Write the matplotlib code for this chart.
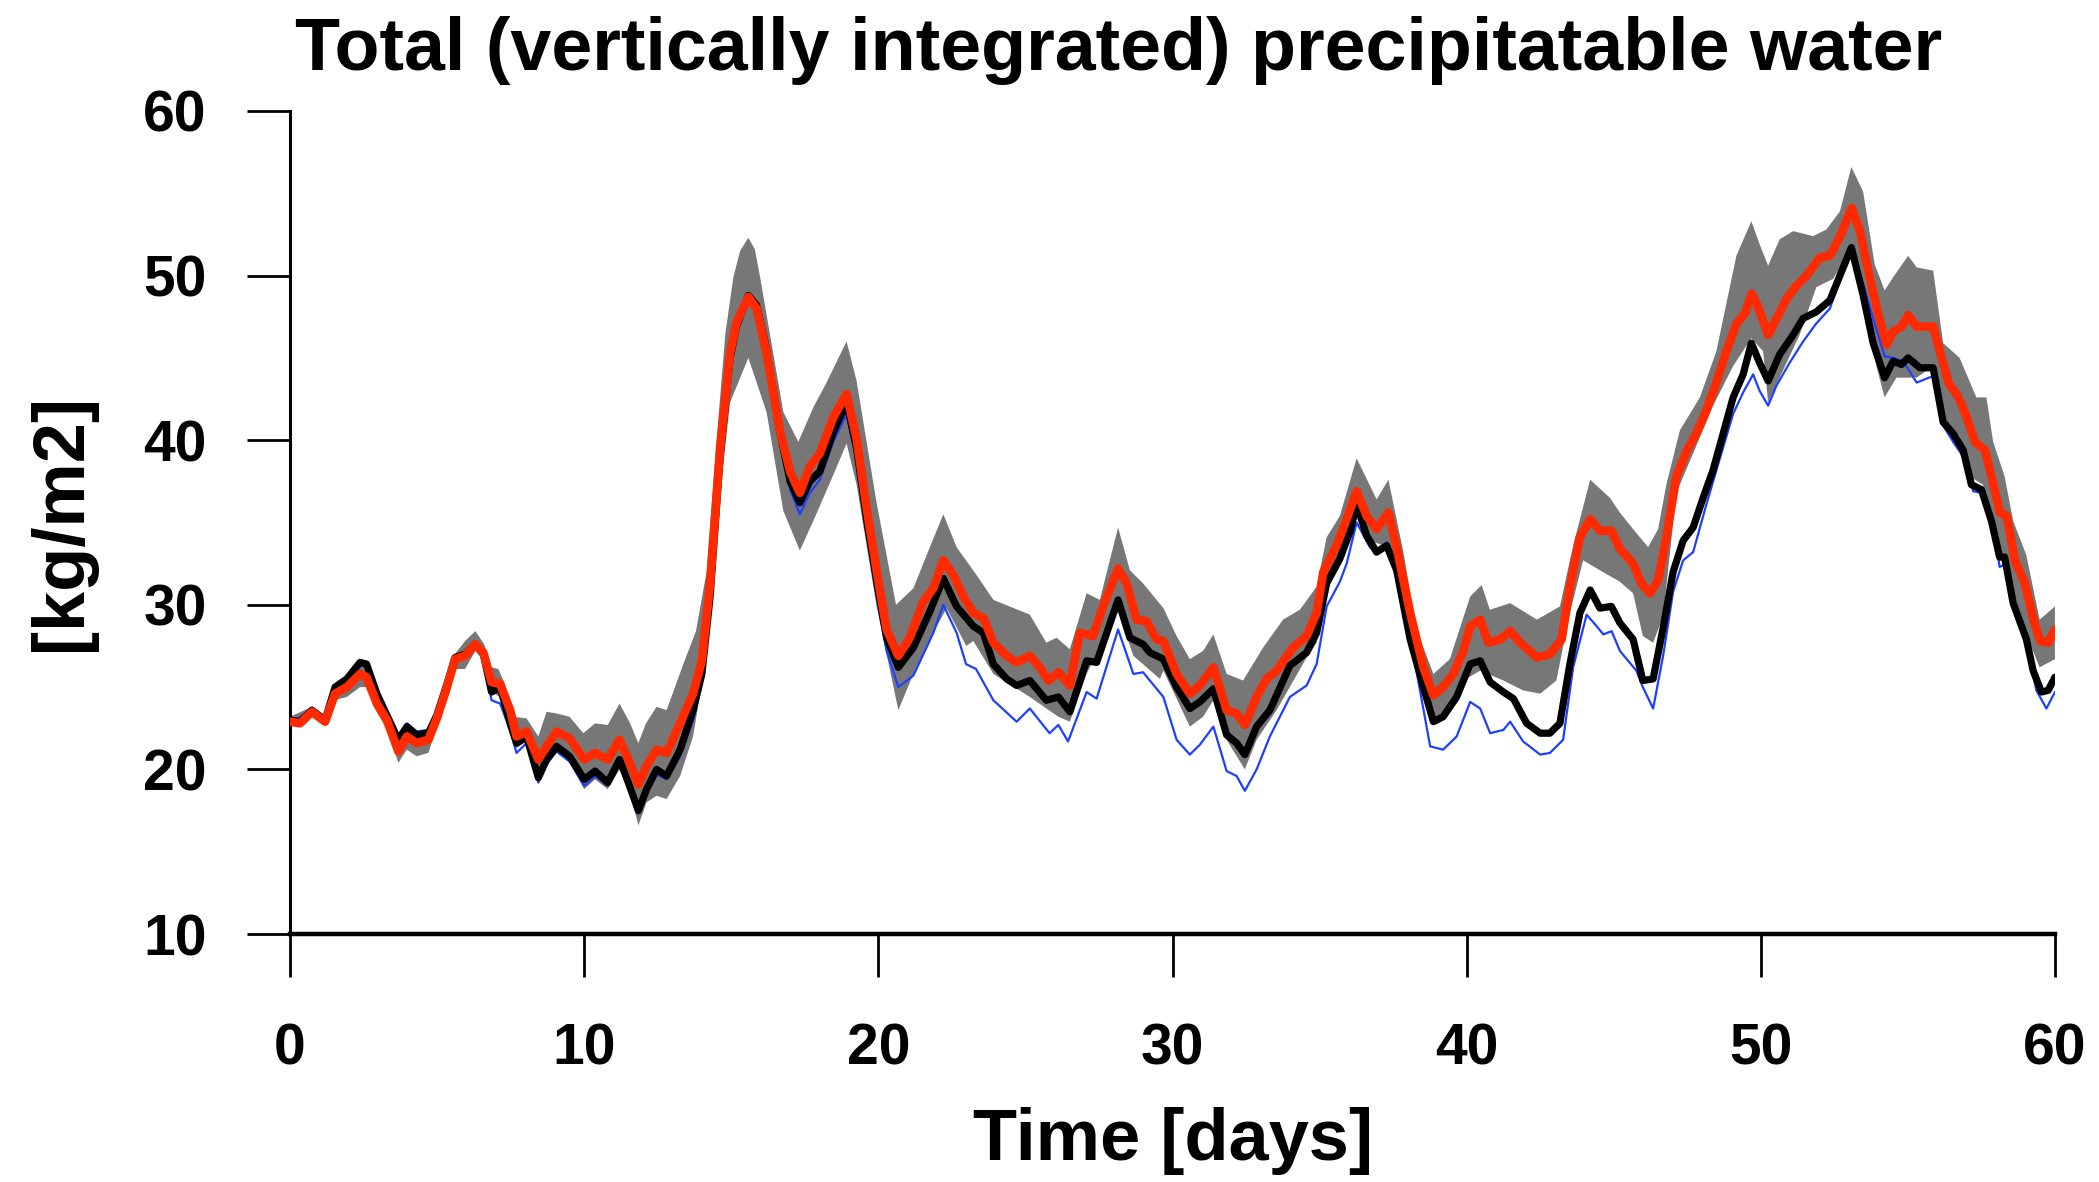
import numpy as np
import matplotlib
matplotlib.use("Agg")
import matplotlib.pyplot as plt

plt.rcParams['font.family'] = ['Liberation Sans', 'DejaVu Sans']
plt.rcParams['font.weight'] = 'bold'

# (day, value)
red = [(0, 22.9), (0.34, 22.8), (0.74, 23.5), (1.19, 22.9), (1.53, 24.6), (1.93, 25.0), (2.38, 25.8),
       (2.6, 25.6), (2.95, 24.0), (3.29, 23.0), (3.68, 21.1), (3.97, 22.0), (4.3, 21.6), (4.7, 21.8),
       (4.99, 23.1), (5.3, 24.8), (5.61, 26.7), (5.95, 26.9), (6.29, 27.6), (6.57, 27.1), (6.85, 25.3),
       (7.14, 25.2), (7.48, 23.6), (7.7, 22.0), (8.04, 22.3), (8.44, 20.6), (8.72, 21.4), (9.06, 22.3),
       (9.5, 21.9), (10.0, 20.6), (10.37, 21.0), (10.8, 20.6), (11.2, 21.8), (11.5, 20.6), (11.84, 19.1),
       (12.12, 20.2), (12.46, 21.2), (12.8, 21.0), (13.26, 22.8), (13.7, 24.6), (14.0, 26.6), (14.28, 31.3),
       (14.62, 39.5), (14.96, 45.3), (15.19, 47.2), (15.58, 48.7), (15.86, 48.0), (16.2, 45.3), (16.65, 40.6),
       (17.0, 38.1), (17.33, 36.8), (17.67, 38.4), (18.01, 39.2), (18.47, 41.4), (18.92, 42.8), (19.26, 40.1),
       (19.6, 35.9), (19.94, 32.1), (20.28, 28.5), (20.68, 26.9), (21.07, 28.0), (21.53, 30.2), (21.87, 31.0),
       (22.21, 32.7), (22.55, 31.8), (22.89, 30.5), (23.23, 29.5), (23.57, 29.2), (23.91, 27.7), (24.36, 26.9),
       (24.7, 26.5), (25.15, 26.9), (25.49, 26.2), (25.78, 25.4), (26.12, 25.9), (26.51, 25.1), (26.85, 28.3),
       (27.3, 28.1), (27.64, 29.9), (28.15, 32.2), (28.44, 31.3), (28.78, 29.1), (29.12, 29.0), (29.46, 27.9),
       (29.69, 27.8), (30.14, 25.8), (30.59, 24.6), (30.93, 25.1), (31.39, 26.2), (31.84, 23.6), (32.18, 23.4),
       (32.46, 22.7), (32.86, 24.4), (33.2, 25.5), (33.54, 26.0), (34.1, 27.4), (34.56, 28.1), (34.9, 29.5),
       (35.13, 32.0), (35.58, 33.6), (35.92, 35.2), (36.26, 36.9), (36.6, 35.4), (36.94, 34.6), (37.34, 35.6),
       (37.62, 33.5), (38.08, 29.5), (38.53, 26.2), (38.87, 24.5), (39.2, 25.0), (39.55, 25.8), (39.89, 27.2),
       (40.12, 28.7), (40.46, 29.1), (40.74, 27.7), (41.14, 27.9), (41.48, 28.4), (41.82, 27.7), (42.39, 26.8),
       (42.83, 27.0), (43.23, 27.9), (43.51, 31.1), (43.85, 34.1), (44.2, 35.2), (44.53, 34.5), (44.92, 34.5),
       (45.21, 33.4), (45.66, 32.5), (45.94, 31.3), (46.23, 30.7), (46.51, 31.5), (46.79, 34.1), (47.13, 37.8),
       (47.47, 39.3), (47.81, 40.4), (48.15, 41.8), (48.49, 43.5), (48.83, 45.4), (49.18, 47.1), (49.46, 47.7),
       (49.69, 48.9), (49.91, 48.1), (50.25, 46.4), (50.54, 47.4), (50.88, 48.6), (51.22, 49.4), (51.56, 50.0),
       (52.01, 51.1), (52.35, 51.2), (52.7, 52.4), (53.09, 54.1), (53.37, 52.7), (53.71, 49.8), (54.0, 47.6),
       (54.28, 45.8), (54.5, 46.6), (54.79, 46.9), (55.01, 47.6), (55.3, 46.9), (55.86, 46.9), (56.09, 45.4),
       (56.38, 43.5), (56.72, 42.6), (57.0, 41.4), (57.28, 39.9), (57.62, 39.4), (57.91, 37.3), (58.13, 35.6),
       (58.36, 35.4), (58.64, 32.7), (58.98, 31.3), (59.27, 29.1), (59.5, 27.8), (59.78, 27.7), (60.0, 28.5)]

black = [(0, 23.0), (0.34, 22.9), (0.74, 23.6), (1.19, 23.0), (1.53, 25.0), (1.93, 25.5), (2.38, 26.5),
         (2.6, 26.4), (2.95, 24.6), (3.29, 23.3), (3.68, 21.8), (3.97, 22.6), (4.3, 22.1), (4.7, 22.2),
         (4.99, 23.3), (5.3, 25.0), (5.61, 26.8), (5.95, 27.0), (6.29, 27.6), (6.57, 27.0), (6.85, 24.7),
         (7.14, 25.0), (7.48, 22.8), (7.7, 21.6), (8.04, 22.0), (8.44, 19.5), (8.72, 20.6), (9.06, 21.4),
         (9.5, 20.8), (10.0, 19.4), (10.37, 19.9), (10.8, 19.2), (11.2, 20.6), (11.5, 19.2), (11.84, 17.5),
         (12.12, 18.8), (12.46, 20.0), (12.8, 19.6), (13.26, 21.2), (13.7, 23.6), (14.0, 25.8), (14.28, 30.5),
         (14.62, 39.0), (14.96, 45.0), (15.19, 47.0), (15.58, 48.8), (15.86, 48.2), (16.2, 45.5), (16.65, 40.5),
         (17.0, 37.5), (17.33, 36.2), (17.67, 37.5), (18.01, 38.1), (18.47, 40.5), (18.92, 42.3), (19.26, 39.5),
         (19.6, 35.2), (19.94, 31.5), (20.28, 28.0), (20.68, 26.2), (21.19, 27.4), (21.75, 29.6), (22.21, 31.6),
         (22.66, 29.9), (23.23, 28.7), (23.57, 28.3), (23.91, 26.4), (24.36, 25.5), (24.7, 25.1), (25.15, 25.4),
         (25.71, 24.2), (26.12, 24.4), (26.51, 23.5), (27.08, 26.6), (27.42, 26.5), (28.15, 30.3), (28.55, 28.0),
         (29.0, 27.6), (29.23, 27.1), (29.69, 26.7), (30.14, 25.0), (30.59, 23.7), (30.93, 24.1), (31.39, 24.9),
         (31.84, 22.1), (32.18, 21.6), (32.46, 20.9), (32.86, 22.6), (33.31, 23.6), (33.99, 26.3), (34.56, 27.1),
         (34.9, 28.3), (35.24, 31.3), (35.69, 32.8), (36.03, 34.4), (36.26, 36.1), (36.6, 34.2), (36.94, 33.2),
         (37.28, 33.6), (37.62, 32.1), (38.08, 27.9), (38.53, 25.0), (38.87, 22.9), (39.2, 23.2), (39.66, 24.4),
         (40.12, 26.4), (40.46, 26.6), (40.8, 25.3), (41.25, 24.7), (41.59, 24.3), (42.04, 22.8), (42.5, 22.2),
         (42.83, 22.2), (43.17, 22.8), (43.51, 26.4), (43.85, 29.5), (44.2, 30.9), (44.53, 29.8), (44.92, 29.9),
         (45.21, 28.9), (45.66, 27.9), (45.99, 25.4), (46.34, 25.5), (46.68, 28.6), (47.02, 32.0), (47.36, 33.9),
         (47.7, 34.7), (48.04, 36.5), (48.38, 38.2), (48.72, 40.4), (49.06, 42.6), (49.4, 44.0), (49.68, 45.9),
         (49.96, 44.7), (50.25, 43.6), (50.64, 45.2), (51.1, 46.4), (51.44, 47.4), (51.89, 47.8), (52.35, 48.5),
         (52.69, 50.0), (53.08, 51.7), (53.48, 48.8), (53.82, 45.9), (54.21, 43.8), (54.5, 44.8), (54.78, 44.6),
         (55.01, 45.0), (55.41, 44.4), (55.86, 44.4), (56.2, 41.1), (56.54, 40.4), (56.88, 39.4), (57.16, 37.3),
         (57.5, 37.0), (57.84, 35.1), (58.12, 32.9), (58.29, 32.9), (58.58, 30.1), (59.03, 27.9), (59.26, 26.0),
         (59.54, 24.7), (59.77, 24.8), (60.0, 25.6)]

blue = [(0, 22.9), (0.74, 23.5), (1.19, 22.9), (1.53, 24.8), (1.93, 25.4), (2.38, 26.4), (2.6, 26.3),
        (2.95, 24.8), (3.29, 23.5), (3.68, 22.0), (3.97, 22.8), (4.3, 22.3), (4.7, 22.4), (4.99, 23.2),
        (5.3, 24.8), (5.61, 26.6), (5.95, 26.8), (6.29, 27.4), (6.57, 26.9), (6.85, 24.2), (7.14, 24.0),
        (7.48, 22.4), (7.7, 21.0), (8.04, 21.6), (8.44, 19.2), (8.72, 20.3), (9.06, 21.1), (9.5, 20.5),
        (10.0, 19.0), (10.37, 19.6), (10.8, 19.0), (11.2, 20.4), (11.5, 19.0), (11.84, 17.3), (12.12, 18.5),
        (12.46, 19.7), (12.8, 19.4), (13.26, 20.8), (13.7, 23.0), (14.0, 25.2), (14.28, 29.5), (14.62, 38.0),
        (14.96, 44.5), (15.19, 46.5), (15.58, 48.4), (15.86, 47.8), (16.2, 45.0), (16.65, 40.0), (17.0, 37.0),
        (17.33, 35.5), (17.67, 36.8), (18.01, 37.6), (18.47, 39.9), (18.92, 41.6), (19.26, 38.8), (19.6, 34.5),
        (19.94, 30.5), (20.28, 27.2), (20.68, 25.0), (21.19, 25.7), (21.87, 28.3), (22.21, 30.0), (22.66, 28.3),
        (22.98, 26.4), (23.32, 26.1), (23.91, 24.2), (24.7, 22.9), (25.15, 23.7), (25.82, 22.2), (26.12, 22.7),
        (26.45, 21.7), (27.08, 24.7), (27.42, 24.3), (28.15, 28.5), (28.67, 25.8), (29.0, 25.9), (29.23, 25.4),
        (29.69, 24.4), (30.14, 21.8), (30.59, 20.9), (30.93, 21.5), (31.39, 22.6), (31.84, 19.9), (32.18, 19.6),
        (32.46, 18.7), (32.86, 20.0), (33.31, 22.0), (33.99, 24.4), (34.56, 25.1), (34.9, 26.4), (35.24, 29.9),
        (35.69, 31.4), (35.92, 32.5), (36.26, 35.0), (36.71, 33.5), (36.94, 33.2), (37.28, 33.8), (37.62, 31.7),
        (38.19, 27.0), (38.76, 21.4), (39.2, 21.2), (39.66, 22.0), (40.12, 24.1), (40.46, 23.7), (40.8, 22.2),
        (41.25, 22.4), (41.48, 22.9), (41.92, 21.7), (42.5, 20.9), (42.83, 21.0), (43.28, 21.8), (43.62, 26.2),
        (44.08, 29.4), (44.42, 28.7), (44.65, 28.2), (44.93, 28.4), (45.21, 27.2), (45.77, 26.0), (45.99, 25.0),
        (46.34, 23.7), (46.68, 26.9), (47.02, 30.8), (47.36, 32.7), (47.7, 33.2), (48.15, 36.1), (48.61, 38.9),
        (49.06, 41.6), (49.4, 42.9), (49.74, 44.0), (49.96, 43.0), (50.25, 42.1), (50.53, 43.3), (50.98, 44.7),
        (51.44, 46.0), (51.89, 47.1), (52.35, 48.0), (52.69, 49.8), (53.08, 51.8), (53.48, 49.5), (53.82, 47.4),
        (54.21, 45.1), (54.5, 45.0), (54.84, 44.8), (55.3, 43.5), (55.86, 43.9), (56.2, 40.9), (56.54, 39.9),
        (56.88, 39.0), (57.22, 36.9), (57.5, 36.8), (57.9, 34.9), (58.12, 32.3), (58.35, 32.5), (58.69, 29.3),
        (59.03, 27.7), (59.37, 24.8), (59.71, 23.7), (60.0, 24.7)]

band_top = [(0, 23.2), (0.74, 23.8), (1.2, 23.2), (1.5, 25.0), (1.93, 25.6), (2.38, 26.7), (2.6, 26.6),
            (2.95, 25.0), (3.3, 23.6), (3.68, 22.0), (3.97, 22.8), (4.3, 22.3), (4.7, 22.4), (5.0, 23.4),
            (5.3, 25.2), (5.6, 27.0), (5.95, 27.8), (6.3, 28.4), (6.6, 27.6), (6.85, 26.2), (7.08, 26.1),
            (7.3, 25.2), (7.6, 23.2), (8.04, 23.1), (8.44, 22.0), (8.72, 23.5), (9.06, 23.4), (9.5, 23.2),
            (9.97, 22.2), (10.37, 22.8), (10.8, 22.7), (11.2, 24.0), (11.56, 22.8), (11.84, 21.6), (12.1, 22.8),
            (12.46, 23.8), (12.8, 23.6), (13.37, 26.4), (13.8, 28.4), (14.16, 32.0), (14.5, 40.0), (14.8, 46.5),
            (15.07, 49.9), (15.3, 51.5), (15.58, 52.3), (15.8, 51.6), (15.98, 49.9), (16.77, 41.7), (17.28, 39.9),
            (17.79, 42.0), (18.21, 43.4), (18.92, 46.0), (19.26, 43.6), (19.94, 36.2), (20.6, 30.0), (21.19, 31.0),
            (21.75, 33.5), (22.21, 35.5), (22.66, 33.5), (23.34, 31.8), (23.91, 30.3), (25.15, 29.4), (25.71, 27.7),
            (26.06, 28.0), (26.51, 27.3), (27.08, 30.7), (27.53, 30.3), (28.15, 34.7), (28.55, 32.1), (29.0, 31.3),
            (29.69, 29.8), (30.14, 28.1), (30.59, 26.7), (31.04, 27.2), (31.39, 28.2), (31.84, 25.8), (32.4, 25.4),
            (33.08, 27.4), (33.76, 29.1), (34.33, 29.7), (34.9, 31.1), (35.24, 34.1), (35.69, 35.4), (36.26, 38.9),
            (36.94, 36.4), (37.34, 37.6), (37.85, 33.2), (38.3, 28.5), (38.87, 25.8), (39.43, 26.7), (40.12, 30.5),
            (40.51, 31.2), (40.79, 29.7), (41.48, 30.1), (42.39, 29.1), (43.17, 29.9), (43.62, 33.6), (44.2, 37.6),
            (44.87, 36.5), (45.21, 35.6), (45.66, 34.6), (46.17, 33.5), (46.51, 34.6), (46.79, 37.3), (47.25, 40.6),
            (47.93, 42.6), (48.49, 45.4), (49.17, 51.2), (49.68, 53.3), (49.96, 51.9), (50.25, 50.6), (50.64, 52.2),
            (51.1, 52.7), (51.78, 52.4), (52.23, 52.8), (52.69, 53.9), (53.08, 56.6), (53.48, 55.1), (53.87, 50.7),
            (54.21, 49.1), (54.5, 49.9), (55.01, 51.2), (55.3, 50.5), (55.86, 50.3), (56.2, 45.9), (56.76, 45.0),
            (57.33, 42.6), (57.67, 42.6), (57.9, 39.9), (58.29, 37.8), (58.58, 35.1), (59.03, 33.0), (59.48, 29.1),
            (60.0, 29.9)]

band_bottom = [(0, 22.7), (0.74, 23.3), (1.2, 22.7), (1.5, 24.2), (1.93, 24.4), (2.38, 25.0), (2.6, 25.0),
               (2.95, 23.5), (3.3, 22.4), (3.68, 20.4), (3.97, 21.2), (4.3, 20.8), (4.7, 21.0), (5.0, 22.6),
               (5.3, 24.4), (5.6, 26.1), (5.95, 26.1), (6.3, 27.2), (6.6, 26.6), (6.85, 24.7), (7.14, 24.4),
               (7.48, 22.6), (7.7, 21.3), (8.04, 21.7), (8.44, 19.4), (8.72, 20.8), (9.06, 21.0), (9.5, 20.4),
               (10.0, 18.8), (10.37, 19.4), (10.8, 18.8), (11.2, 20.0), (11.5, 19.0), (11.84, 16.6), (12.12, 18.0),
               (12.46, 18.4), (12.8, 18.2), (13.26, 19.6), (13.7, 22.0), (14.0, 25.2), (14.3, 30.0), (14.6, 36.5),
               (14.96, 42.3), (15.58, 45.0), (16.2, 41.7), (16.77, 35.7), (17.33, 33.3), (17.79, 35.1), (18.47, 37.9),
               (18.92, 39.8), (19.26, 37.3), (19.94, 29.9), (20.68, 23.6), (21.19, 25.8), (21.87, 28.3), (22.32, 29.8),
               (22.99, 27.5), (23.23, 27.8), (23.91, 25.8), (25.15, 24.4), (26.12, 23.2), (26.51, 22.9), (27.08, 25.8),
               (28.15, 29.6), (28.67, 26.9), (29.57, 25.5), (29.69, 26.0), (30.59, 22.6), (31.04, 23.2), (31.39, 24.2),
               (31.84, 21.8), (32.46, 20.0), (32.86, 21.8), (33.54, 23.6), (34.56, 26.8), (34.9, 27.7), (35.35, 31.5),
               (36.26, 35.6), (36.71, 33.9), (37.17, 33.6), (37.85, 31.1), (38.53, 25.4), (38.87, 22.8), (39.2, 23.2),
               (39.89, 25.4), (40.46, 26.0), (41.25, 25.4), (41.92, 24.8), (42.5, 24.6), (43.05, 25.4), (43.51, 29.5),
               (43.96, 32.7), (44.53, 32.1), (45.21, 31.4), (45.66, 30.7), (45.99, 28.1), (46.34, 27.7), (46.68, 29.3),
               (47.13, 36.8), (47.7, 39.2), (48.38, 42.1), (49.06, 44.5), (49.68, 46.2), (50.08, 45.4), (50.25, 42.3),
               (50.64, 43.8), (51.32, 46.4), (51.89, 49.3), (52.46, 49.8), (53.08, 51.7), (53.59, 47.8), (53.93, 44.5),
               (54.21, 42.6), (54.61, 43.8), (55.3, 43.8), (55.86, 44.5), (56.2, 41.4), (56.76, 40.2), (57.1, 37.8),
               (57.55, 37.3), (58.12, 33.7), (58.69, 30.1), (59.14, 27.7), (59.48, 26.2), (60.0, 26.7)]

x_ticks = [0, 10, 20, 30, 40, 50, 60]
y_ticks = [10, 20, 30, 40, 50, 60]

red = np.array(red)
black = np.array(black)
blue = np.array(blue)
band_top = np.array(band_top)
band_bottom = np.array(band_bottom)

fig = plt.figure(figsize=(20.99, 11.82), dpi=100)
ax = fig.add_axes([0.1382, 0.2098, 0.8408, 0.6963])

band_x = np.concatenate([band_top[:, 0], band_bottom[::-1, 0]])
band_y = np.concatenate([band_top[:, 1], band_bottom[::-1, 1]])
ax.fill(band_x, band_y, color='#777777', lw=0, zorder=1)
ax.plot(blue[:, 0], blue[:, 1], color='#1f3fff', lw=1.6, zorder=2)
ax.plot(black[:, 0], black[:, 1], color='black', lw=5.2, zorder=3,
        solid_joinstyle='round', solid_capstyle='round')
ax.plot(red[:, 0], red[:, 1], color='#ff2a00', lw=6.2, zorder=4,
        solid_joinstyle='round', solid_capstyle='round')

ax.set_xlim(0, 60)
ax.set_ylim(10, 60)
ax.set_xticks(x_ticks)
ax.set_yticks(y_ticks)
for s in ['top', 'right']:
    ax.spines[s].set_visible(False)
ax.spines['left'].set_linewidth(2.2)
ax.spines['bottom'].set_linewidth(3.2)
ax.tick_params(axis='both', direction='out', length=31, width=2, labelsize=41)
ax.tick_params(axis='x', pad=33)
ax.tick_params(axis='y', pad=29)

ax.set_xlabel('Time [days]', fontsize=52, fontweight='bold', labelpad=22)
ax.set_ylabel('[kg/m2]', fontsize=52, fontweight='bold', labelpad=34)
fig.text(0.5327, 0.9408, 'Total (vertically integrated) precipitatable water',
         fontsize=53, fontweight='bold', ha='center', va='baseline')

fig.savefig('out.png', dpi=100)
